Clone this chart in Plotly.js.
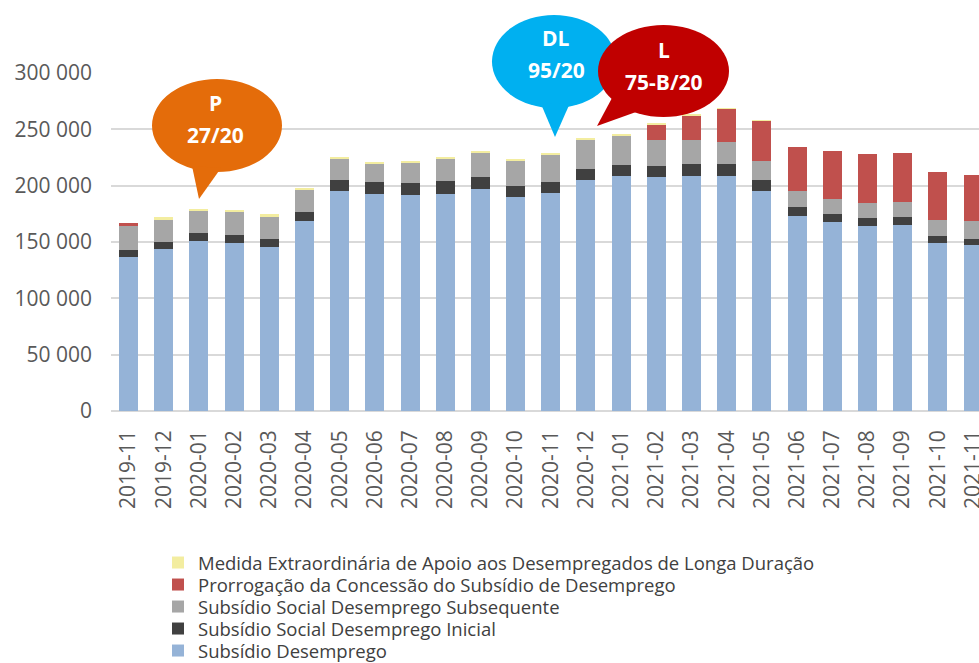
<!DOCTYPE html>
<html lang="pt">
<head>
    <meta charset="UTF-8">
    <title>Prestações de desemprego</title>
    <script src="https://cdn.plot.ly/plotly-3.0.1.min.js"></script>
    <style>
        body { margin: 0; background: #fff; }
    </style>
</head>
<body>
<div id="chart"></div>
<script>

// data (beneficiaries per month)
const months = ['2019-11','2019-12','2020-01','2020-02','2020-03','2020-04','2020-05','2020-06',
    '2020-07','2020-08','2020-09','2020-10','2020-11','2020-12','2021-01','2021-02','2021-03',
    '2021-04','2021-05','2021-06','2021-07','2021-08','2021-09','2021-10','2021-11'];

const subsidioDesemprego = [137000,143500,150600,148900,145300,168900,195300,192300,
    191700,192900,197000,189700,193500,205000,208300,207400,208600,
    208600,195300,173400,168000,164500,165400,149400,147100];

const socialInicial = [5900,6500,7700,7600,7600,8000,9700,11000,
    10900,11200,10700,10000,10000,10100,10000,10100,10600,
    10600,9700,7400,7100,7100,6800,6200,5800];

const socialSubsequente = [21300,20400,19500,20100,19600,19500,18700,16800,
    17800,19300,21600,22200,24000,25700,26100,23300,21600,
    19600,16900,14700,13300,13000,13300,14200,15500];

const prorrogacao = [2400,0,0,0,0,0,0,0,
    0,0,0,0,0,0,0,13700,21700,
    29300,35500,38600,42600,43500,43800,42100,41100];

const medidaLongaDuracao = [0,1500,1800,1800,2100,1500,1500,1200,
    1500,1800,1700,1800,1800,1500,900,400,400,
    400,300,0,0,0,0,0,0];

const yTicks = [0,50000,100000,150000,200000,250000,300000];
const yTickText = ['0','50 000','100 000','150 000','200 000','250 000','300 000'];

// plot box in pixels, used to place the speech bubbles
const W = 979, H = 663;
const box = {l: 111, r: 979, t: 73, b: 411};
const px = x => (x - box.l) / (box.r - box.l);
const py = y => (box.b - y) / (box.b - box.t);

const font = 'Open Sans, Noto Sans, sans-serif';

const series = [
    {name: 'Subsídio Desemprego', y: subsidioDesemprego, color: '#95B3D7', legend: 'legend5'},
    {name: 'Subsídio Social Desemprego Inicial', y: socialInicial, color: '#404040', legend: 'legend4'},
    {name: 'Subsídio Social Desemprego Subsequente', y: socialSubsequente, color: '#A6A6A6', legend: 'legend3'},
    {name: 'Prorrogação da Concessão do Subsídio de Desemprego', y: prorrogacao, color: '#C0504D', legend: 'legend2'},
    {name: 'Medida Extraordinária de Apoio aos Desempregados de Longa Duração', y: medidaLongaDuracao, color: '#F3EDA0', legend: 'legend'}
];

const data = series.map(s => ({
    type: 'bar',
    name: s.name,
    x: months,
    y: s.y,
    legend: s.legend,
    marker: {color: s.color, line: {width: 0}},
    hoverinfo: 'x+y+name'
}));

// one legend per row so the row spacing can follow the picture
function legendRow(rowY) {
    return {
        xref: 'container', yref: 'container',
        x: 158 / W, xanchor: 'left',
        y: 1 - rowY / H, yanchor: 'middle',
        bgcolor: 'rgba(0,0,0,0)', borderwidth: 0,
        font: {family: font, size: 18.5, color: '#404040'}
    };
}

function bubble(cx, cy, rx, ry, tail, color) {
    return [
        {type: 'circle', xref: 'paper', yref: 'paper',
         x0: px(cx - rx), x1: px(cx + rx), y0: py(cy + ry), y1: py(cy - ry),
         fillcolor: color, line: {width: 0}, layer: 'above'},
        {type: 'path', xref: 'paper', yref: 'paper',
         path: 'M' + tail.map(p => px(p[0]) + ',' + py(p[1])).join(' L') + ' Z',
         fillcolor: color, line: {width: 0}, layer: 'above'}
    ];
}

function label(x, y, text) {
    return {xref: 'paper', yref: 'paper', x: px(x), y: py(y), text: text, showarrow: false,
        xanchor: 'center', yanchor: 'middle',
        font: {family: font, size: 21, color: '#ffffff', weight: 'bold'}};
}

const shapes = [].concat(
    bubble(217, 125.5, 65, 46.5, [[192, 166], [221, 168], [199, 199]], '#E46C0A'),
    bubble(554, 61.5, 62, 46.5, [[541, 104], [570, 103], [555, 137]], '#00B0F0'),
    bubble(663.5, 71, 65.5, 46, [[612, 98], [636, 112], [597, 126]], '#C00000')
);

const annotations = [
    label(215, 103, 'P'), label(215, 135, '27/20'),
    label(556, 38, 'DL'), label(556, 70, '95/20'),
    label(664, 50, 'L'), label(664, 82, '75-B/20')
];

const layout = {
    width: W, height: H,
    margin: {l: box.l, r: W - box.r, t: box.t, b: H - box.b, autoexpand: false},
    paper_bgcolor: '#ffffff', plot_bgcolor: '#ffffff',
    barmode: 'stack',
    bargap: 0.46,
    showlegend: true,
    legend: legendRow(563),
    legend2: legendRow(585),
    legend3: legendRow(607),
    legend4: legendRow(629),
    legend5: legendRow(651),
    xaxis: {
        type: 'category',
        range: [-0.5, 24.17],
        tickangle: -90,
        ticks: '',
        ticklabelstandoff: 14,
        tickfont: {family: font, size: 21, color: '#595959'},
        showgrid: false,
        showline: false,
        zeroline: false
    },
    yaxis: {
        range: [0, 300000],
        tickvals: yTicks,
        ticktext: yTickText,
        ticks: '',
        ticklabelstandoff: 18,
        tickfont: {family: font, size: 21, color: '#595959'},
        showgrid: true,
        gridcolor: '#D9D9D9',
        gridwidth: 1.5,
        zeroline: true,
        zerolinecolor: '#D9D9D9',
        zerolinewidth: 1.5,
        showline: false
    },
    shapes: shapes,
    annotations: annotations
};

Plotly.newPlot('chart', data, layout, {displayModeBar: false, responsive: false});

</script>
</body>
</html>
